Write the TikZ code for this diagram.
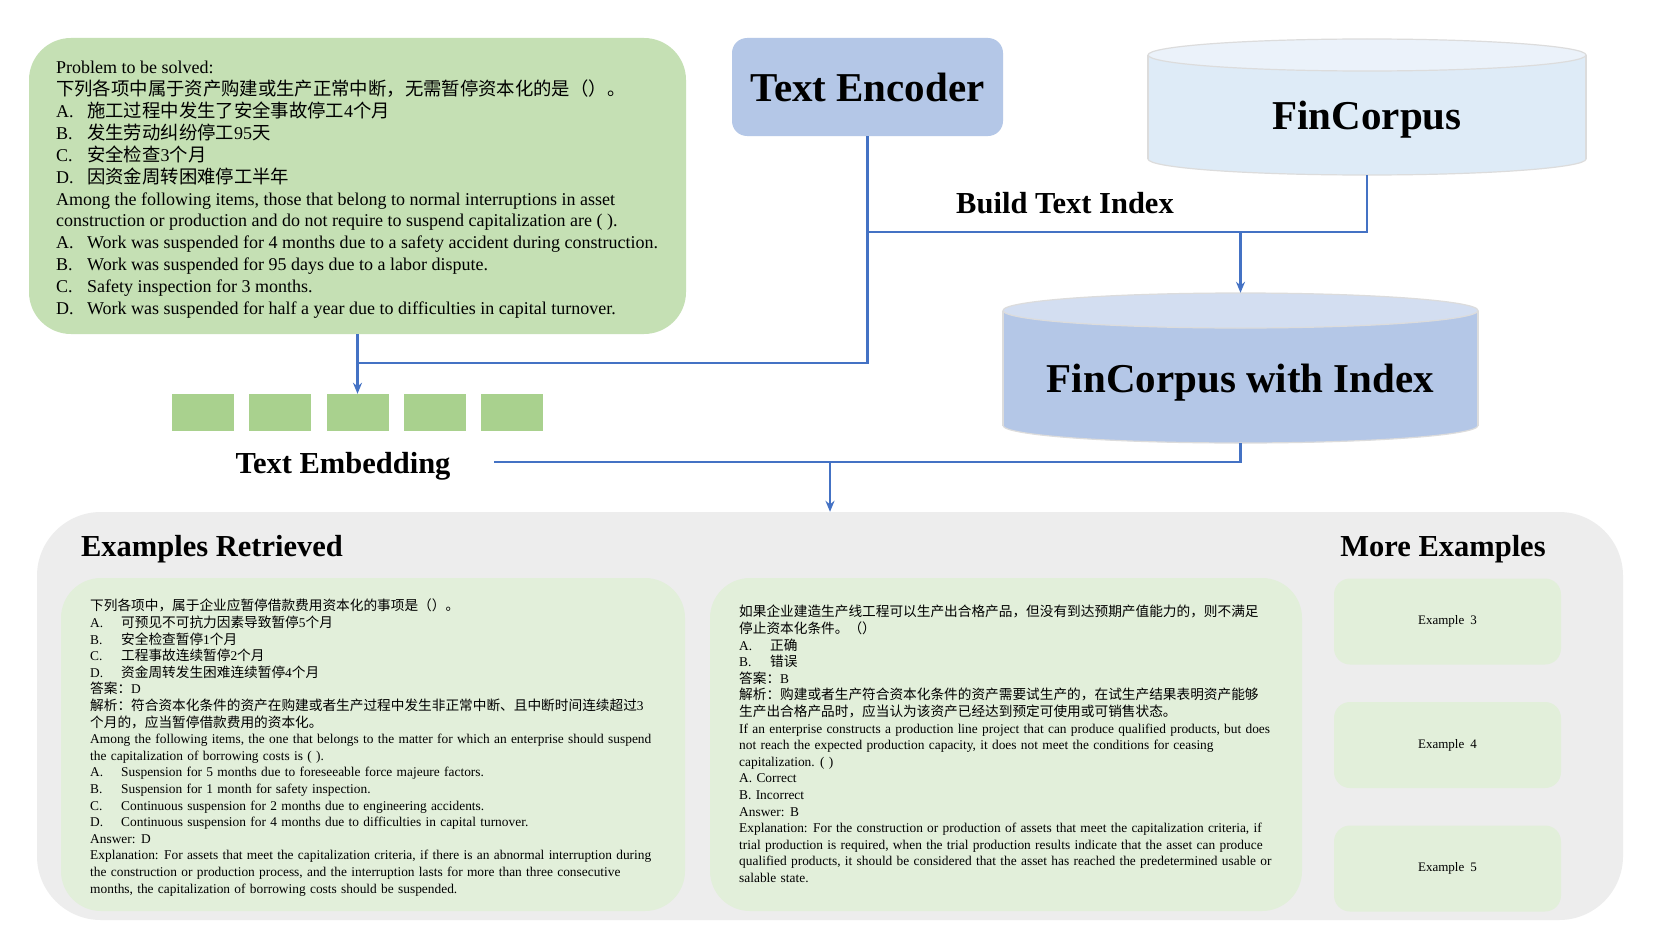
\documentclass[tikz,border=0pt]{standalone}
\usepackage{fontspec}
\setmainfont{Liberation Serif}
\newfontfamily\cjk[Scale=1.02]{Noto Sans CJK SC}
\usetikzlibrary{arrows.meta}
\definecolor{encblue}{HTML}{B4C7E7}
\definecolor{probgreen}{HTML}{C5E0B4}
\definecolor{embgreen}{HTML}{A9D18E}
\definecolor{exgreen}{HTML}{E2EFDA}
\definecolor{panelgray}{HTML}{EDEDED}
\definecolor{linkblue}{HTML}{4472C4}
\definecolor{fcbody}{HTML}{DEEBF7}
\definecolor{fctop}{HTML}{EBF2FA}
\definecolor{fcibody}{HTML}{B4C7E7}
\definecolor{fcitop}{HTML}{D3DEF1}
\definecolor{rimgray}{HTML}{DCDCDC}
\newcommand\opt[1]{\makebox[31pt][l]{#1}}
\newcommand\exfont{\fontsize{13.4}{16.6}\selectfont\spaceskip=4.3pt\relax}
\begin{document}
\begin{tikzpicture}[x=1pt,y=-1pt,
  conn/.style={draw=linkblue, line width=2.4pt},
  arr/.style={conn, -{Stealth[length=11pt,width=9pt]}},
  bigtitle/.style={font=\fontsize{41}{45}\selectfont\bfseries, inner sep=0},
  midtitle/.style={font=\fontsize{30.5}{34}\selectfont\bfseries, inner sep=0},
  exbox/.style={fill=exgreen, rounded corners=40pt, inner sep=0},
  smallbox/.style={fill=exgreen, rounded corners=16pt, minimum width=227pt, minimum height=86pt, inner sep=0, font=\fontsize{13}{16}\selectfont},
  bodytext/.style={align=left, anchor=north west, inner sep=0},
  extext/.style={bodytext, font=\exfont},
  embsq/.style={fill=embgreen, minimum width=62pt, minimum height=37pt, inner sep=0}
]
\useasboundingbox (0,0) rectangle (1661,934);
\fill[white] (0,0) rectangle (1661,934);

% ---------- problem box ----------
\node[fill=probgreen, rounded corners=42pt, minimum width=657pt, minimum height=296pt, inner sep=0] (prob) at (357.5,186) {};
\node[bodytext, font=\fontsize{18}{21.9}\selectfont] (probtext) at (56,61) {Problem to be solved:\\
{\cjk 下列各项中属于资产购建或生产正常中断，无需暂停资本化的是（）。}\\
\opt{A.}{\cjk 施工过程中发生了安全事故停工}4{\cjk 个月}\\
\opt{B.}{\cjk 发生劳动纠纷停工}95{\cjk 天}\\
\opt{C.}{\cjk 安全检查}3{\cjk 个月}\\
\opt{D.}{\cjk 因资金周转困难停工半年}\\
Among the following items, those that belong to normal interruptions in asset\\
construction or production and do not require to suspend capitalization are ( ).\\
\opt{A.}Work was suspended for 4 months due to a safety accident during construction.\\
\opt{B.}Work was suspended for 95 days due to a labor dispute.\\
\opt{C.}Safety inspection for 3 months.\\
\opt{D.}Work was suspended for half a year due to difficulties in capital turnover.};

% ---------- text encoder ----------
\node[fill=encblue, rounded corners=15pt, minimum width=271pt, minimum height=98pt, inner sep=0, font=\fontsize{41}{45}\selectfont\bfseries] (enc) at (867.5,87) {Text Encoder};

% ---------- FinCorpus cylinder ----------
\node[minimum width=438pt, minimum height=136pt, inner sep=0] (fc) at (1367,107) {};
\filldraw[fill=fcbody, draw=rimgray, line width=1.2pt] (1367,159) ellipse [x radius=219, y radius=16];
\fill[fcbody] (1148,55) rectangle (1586,159);
\draw[rimgray, line width=1.2pt] (1148,55) -- (1148,159) (1586,55) -- (1586,159);
\filldraw[fill=fctop, draw=rimgray, line width=1.2pt] (1367,55) ellipse [x radius=219, y radius=16];
\node[bigtitle] (fclabel) at (1367,120) {FinCorpus};

% ---------- FinCorpus with Index cylinder ----------
\node[minimum width=475pt, minimum height=150pt, inner sep=0] (fci) at (1240.5,368) {};
\filldraw[fill=fcibody, draw=rimgray, line width=1.2pt] (1240.5,425.5) ellipse [x radius=237.5, y radius=17.5];
\fill[fcibody] (1003,310.5) rectangle (1478,425.5);
\draw[rimgray, line width=1.2pt] (1003,310.5) -- (1003,425.5) (1478,310.5) -- (1478,425.5);
\filldraw[fill=fcitop, draw=rimgray, line width=1.2pt] (1240.5,310.5) ellipse [x radius=237.5, y radius=17.5];
\node[bigtitle] (fcilabel) at (1240.5,383) {FinCorpus with Index};

\node[midtitle] (buildlabel) at (1065,203) {Build Text Index};

% ---------- embedding ----------
\node[embsq] (emb1) at (203,412.5) {};
\node[embsq] (emb2) at (280.3,412.5) {};
\node[embsq] (emb3) at (357.5,412.5) {};
\node[embsq] (emb4) at (434.9,412.5) {};
\node[embsq] (emb5) at (512.2,412.5) {};
\node[midtitle] (emblabel) at (343,466) {Text Embedding};

% ---------- bottom panel ----------
\node[fill=panelgray, rounded corners=64pt, minimum width=1586pt, minimum height=408pt, inner sep=0] (panel) at (830,716) {};
\node[midtitle] (rettitle) at (212,549) {Examples Retrieved};
\node[midtitle] (moretitle) at (1443,549) {More Examples};

\node[exbox, minimum width=624pt, minimum height=333pt] (ex1) at (373,744.5) {};
\node[exbox, minimum width=592pt, minimum height=333pt] (ex2) at (1006,744.5) {};

\node[extext] (ex1text) at (90,599) {{\cjk 下列各项中，属于企业应暂停借款费用资本化的事项是（）。}\\
\opt{A.}{\cjk 可预见不可抗力因素导致暂停}5{\cjk 个月}\\
\opt{B.}{\cjk 安全检查暂停}1{\cjk 个月}\\
\opt{C.}{\cjk 工程事故连续暂停}2{\cjk 个月}\\
\opt{D.}{\cjk 资金周转发生困难连续暂停}4{\cjk 个月}\\
{\cjk 答案：}D\\
{\cjk 解析：符合资本化条件的资产在购建或者生产过程中发生非正常中断、且中断时间连续超过}3\\
{\cjk 个月的，应当暂停借款费用的资本化。}\\
Among the following items, the one that belongs to the matter for which an enterprise should suspend\\
the capitalization of borrowing costs is ( ).\\
\opt{A.}Suspension for 5 months due to foreseeable force majeure factors.\\
\opt{B.}Suspension for 1 month for safety inspection.\\
\opt{C.}Continuous suspension for 2 months due to engineering accidents.\\
\opt{D.}Continuous suspension for 4 months due to difficulties in capital turnover.\\
Answer: D\\
Explanation: For assets that meet the capitalization criteria, if there is an abnormal interruption during\\
the construction or production process, and the interruption lasts for more than three consecutive\\
months, the capitalization of borrowing costs should be suspended.};

\node[extext] (ex2text) at (739,605) {{\cjk 如果企业建造生产线工程可以生产出合格产品，但没有到达预期产值能力的，则不满足}\\
{\cjk 停止资本化条件。（）}\\
\opt{A.}{\cjk 正确}\\
\opt{B.}{\cjk 错误}\\
{\cjk 答案：}B\\
{\cjk 解析：购建或者生产符合资本化条件的资产需要试生产的，在试生产结果表明资产能够}\\
{\cjk 生产出合格产品时，应当认为该资产已经达到预定可使用或可销售状态。}\\
If an enterprise constructs a production line project that can produce qualified products, but does\\
not reach the expected production capacity, it does not meet the conditions for ceasing\\
capitalization. ( )\\
A. Correct\\
B. Incorrect\\
Answer: B\\
Explanation: For the construction or production of assets that meet the capitalization criteria, if\\
trial production is required, when the trial production results indicate that the asset can produce\\
qualified products, it should be considered that the asset has reached the predetermined usable or\\
salable state.};

\node[smallbox] (ex3) at (1447.5,621.5) {Example\hspace{6pt}3};
\node[smallbox] (ex4) at (1447.5,745) {Example\hspace{6pt}4};
\node[smallbox] (ex5) at (1447.5,868.5) {Example\hspace{6pt}5};

% ---------- connectors ----------
\coordinate (j1) at (357.5,363);
\coordinate (j2) at (867.5,232);
\coordinate (j3) at (1240.5,232);
\coordinate (j4) at (830,462);
\coordinate (tail) at (494,462);
\draw[conn] (enc.south) |- (j1);
\draw[arr] (prob.south) -- (emb3.north);
\draw[conn] (fc.south) |- (j2);
\draw[arr] (j3) -- (fci.north);
\draw[conn] (fci.south) |- (tail);
\draw[arr] (j4) -- (panel.north);
\end{tikzpicture}
\end{document}
